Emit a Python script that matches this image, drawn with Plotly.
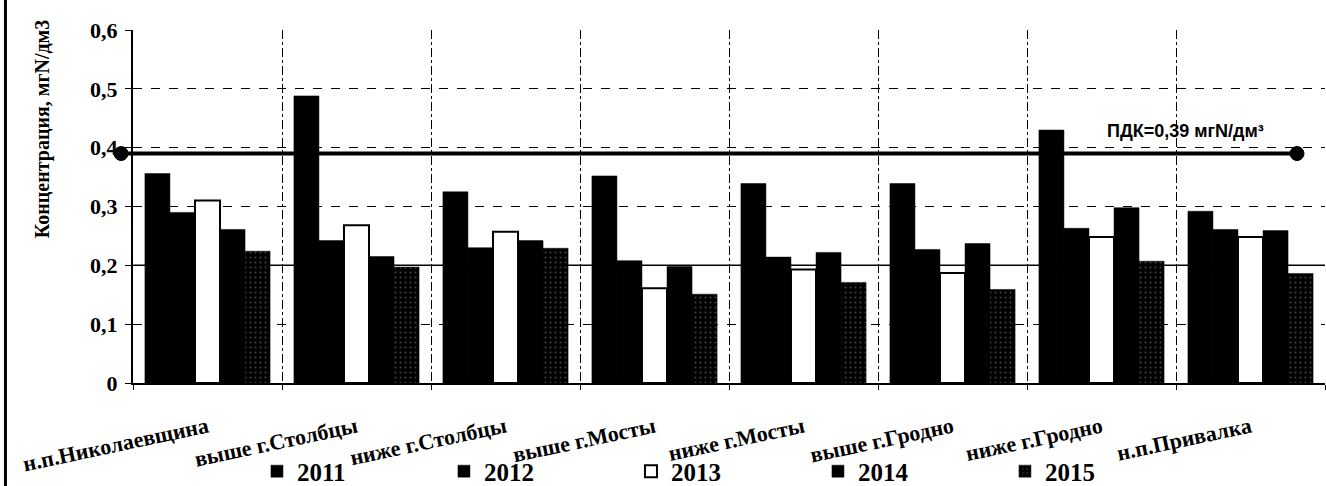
import plotly.graph_objects as go

categories = ["н.п.Николаевщина", "выше г.Столбцы", "ниже г.Столбцы", "выше г.Мосты",
              "ниже г.Мосты", "выше г.Гродно", "ниже г.Гродно", "н.п.Привалка"]
v2011 = [0.356, 0.488, 0.325, 0.352, 0.339, 0.339, 0.430, 0.292]
v2012 = [0.290, 0.242, 0.230, 0.208, 0.214, 0.227, 0.263, 0.261]
v2013 = [0.310, 0.268, 0.257, 0.161, 0.193, 0.187, 0.248, 0.248]
v2014 = [0.261, 0.215, 0.242, 0.198, 0.222, 0.237, 0.298, 0.259]
v2015 = [0.224, 0.197, 0.229, 0.151, 0.171, 0.159, 0.207, 0.186]
PDK = 0.39
pdk_label = "ПДК=0,39 мгN/дм³"
y_title = "Концентрация, мгN/дм3"
y_tickvals = [0, 0.1, 0.2, 0.3, 0.4, 0.5, 0.6]
y_ticktext = ["0", "0,1", "0,2", "0,3", "0,4", "0,5", "0,6"]

SERIF = "Liberation Serif"
series = [("2011", v2011), ("2012", v2012), ("2013", v2013), ("2014", v2014), ("2015", v2015)]

fig = go.Figure()
for name, vals in series:
    if name == "2013":
        marker = dict(color="white", line=dict(color="black", width=2))
    elif name == "2015":
        marker = dict(color="black", line=dict(color="black", width=0.5),
                      pattern=dict(shape=".", fgcolor="#8a8a8a", bgcolor="black",
                                   size=5, solidity=0.12))
    else:
        marker = dict(color="black", line=dict(color="black", width=0.5))
    fig.add_trace(go.Bar(x=categories, y=vals, name=name, marker=marker))

# PDK reference line with end markers
fig.add_shape(type="line", xref="paper", yref="y", x0=-0.01, x1=0.9765, y0=PDK, y1=PDK,
              line=dict(color="black", width=4))
for xp in (-0.01, 0.9765):
    fig.add_shape(type="circle", xref="paper", yref="y", xsizemode="pixel", ysizemode="pixel",
                  xanchor=xp, yanchor=PDK, x0=-7, x1=7, y0=-7, y1=7,
                  fillcolor="black", line=dict(color="black", width=1))
fig.add_annotation(text="<b>" + pdk_label + "</b>", xref="paper", yref="y", x=0.883, y=PDK,
                   xanchor="center", yanchor="middle", yshift=23, showarrow=False,
                   font=dict(family="Liberation Sans Narrow, Liberation Sans", size=18, color="black"))
# solid gridline at 0.2 as in reference
fig.add_shape(type="line", xref="paper", yref="y", x0=0, x1=1, y0=0.2, y1=0.2,
              line=dict(color="black", width=1.5), layer="below")
# left frame line
fig.add_shape(type="line", xref="paper", yref="paper", x0=-0.107, x1=-0.107, y0=-0.3, y1=1.09,
              line=dict(color="black", width=3))
# y axis title
fig.add_annotation(text="<b>" + y_title + "</b>", xref="paper", yref="paper", x=-0.076, y=0.72,
                   xanchor="center", yanchor="middle", textangle=-90, showarrow=False,
                   font=dict(family=SERIF, size=20, color="black"))

fig.update_layout(
    width=1326, height=486,
    margin=dict(l=133, r=1, t=30, b=103),
    paper_bgcolor="white", plot_bgcolor="white",
    barmode="group", bargap=0.16, bargroupgap=0,
    showlegend=True,
    legend=dict(orientation="h", x=0.104, xanchor="left", yref="container", y=0.03,
                yanchor="middle",
                entrywidth=142, entrywidthmode="pixels", traceorder="normal",
                bgcolor="rgba(0,0,0,0)",
                font=dict(family=SERIF, size=25, color="black", weight="bold"),
                itemwidth=30),
    font=dict(family=SERIF, color="black"),
)
fig.update_xaxes(type="category", tickson="boundaries", showgrid=True, gridcolor="black",
                 gridwidth=1, griddash="dashdot", showline=True, linecolor="black", linewidth=2,
                 ticks="outside", ticklen=5, tickcolor="black", tickangle=-12,
                 ticklabelstandoff=21, automargin=False,
                 tickfont=dict(family=SERIF, size=22, color="black", weight="bold"))
fig.update_yaxes(range=[0, 0.6], tickvals=y_tickvals, ticktext=y_ticktext, showgrid=True,
                 gridcolor="black", gridwidth=1, griddash="dash", showline=True,
                 linecolor="black", linewidth=2, zeroline=False, ticks="outside", ticklen=6,
                 tickcolor="black", ticklabelstandoff=3, automargin=False,
                 tickfont=dict(family=SERIF, size=22, color="black", weight="bold"))
fig.write_html("out.html", config={"displayModeBar": False},
               post_script="document.body.style.margin='0px';")
